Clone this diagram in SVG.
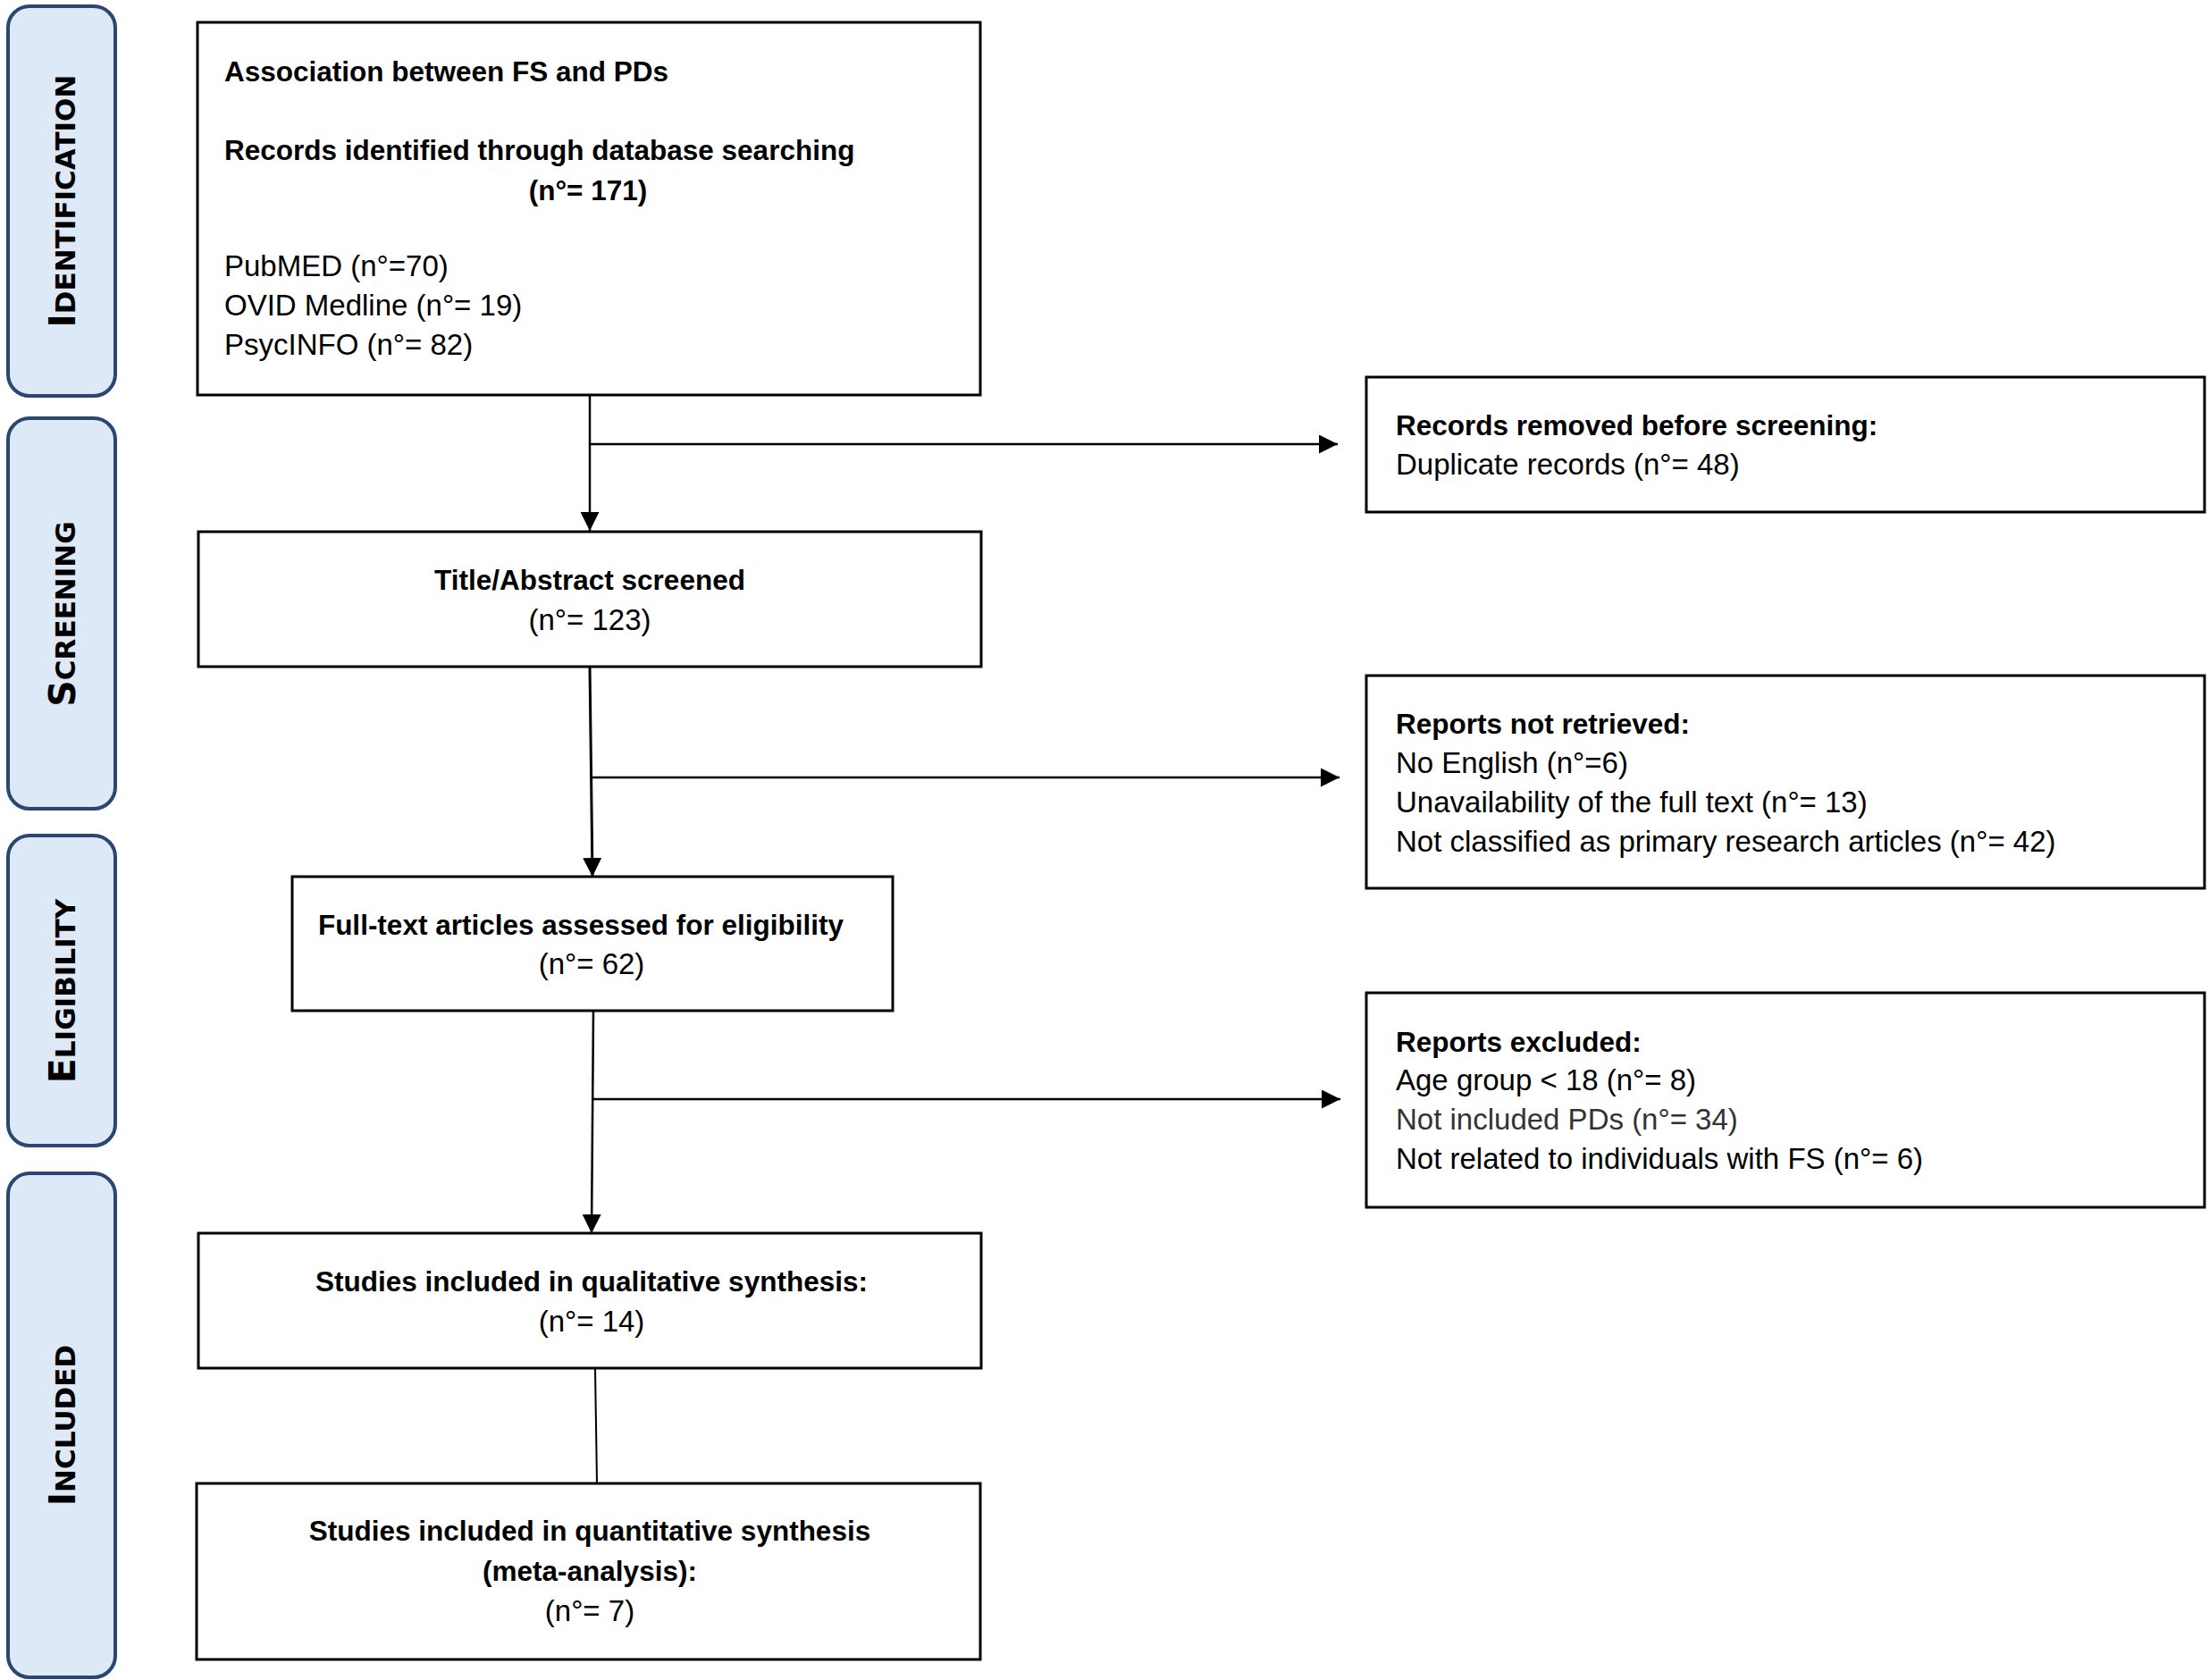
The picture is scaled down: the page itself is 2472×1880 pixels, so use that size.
<svg xmlns="http://www.w3.org/2000/svg" width="2472" height="1880" viewBox="0 0 2472 1880">
<style>
.bg{fill:#ffffff}
.box{fill:#ffffff;stroke:#000000;stroke-width:3}
.phase{fill:#dde9f6;stroke:#2b4670;stroke-width:4}
.ph{font-family:"DejaVu Sans",sans-serif;font-weight:bold;font-size:31px;fill:#000000}
.ph .cap{font-size:41px}
.b{font-family:"Liberation Sans",Arial,sans-serif;font-weight:bold;font-size:31.5px;fill:#000000}
.r{font-family:"Liberation Sans",Arial,sans-serif;font-size:33px;fill:#000000}
.m{text-anchor:middle}
.grey{fill:#333333}
.conn line{stroke:#000000;stroke-width:2.5;fill:none}
</style>
<defs>
<marker id="ah" viewBox="0 0 10 10" refX="10" refY="5" markerWidth="21" markerHeight="21" markerUnits="userSpaceOnUse" orient="auto">
<path d="M0,0 L10,5 L0,10 z" fill="#000000"/>
</marker>
</defs>
<rect class="bg" x="0" y="0" width="2472" height="1880"/>

<g id="phase-identification">
<rect class="phase" x="9" y="7" width="120" height="436" rx="24" ry="24"/>
<text class="ph m" transform="translate(84,225) rotate(-90)"><tspan class="cap">I</tspan>DENTIFICATION</text>
</g>
<g id="phase-screening">
<rect class="phase" x="9" y="468" width="120" height="437" rx="24" ry="24"/>
<text class="ph m" transform="translate(84,687) rotate(-90)"><tspan class="cap">S</tspan>CREENING</text>
</g>
<g id="phase-eligibility">
<rect class="phase" x="9" y="935" width="120" height="347" rx="24" ry="24"/>
<text class="ph m" transform="translate(84,1109) rotate(-90)"><tspan class="cap">E</tspan>LIGIBILITY</text>
</g>
<g id="phase-included">
<rect class="phase" x="9" y="1313" width="120" height="564" rx="24" ry="24"/>
<text class="ph m" transform="translate(84,1595) rotate(-90)"><tspan class="cap">I</tspan>NCLUDED</text>
</g>

<g id="connectors" class="conn">
<line x1="660" y1="442" x2="660" y2="594" marker-end="url(#ah)"/>
<line x1="660" y1="497" x2="1497" y2="497" marker-end="url(#ah)"/>
<line x1="660" y1="746" x2="663" y2="981" marker-end="url(#ah)" style="stroke-width:3"/>
<line x1="662" y1="870" x2="1499" y2="870" marker-end="url(#ah)"/>
<line x1="664" y1="1131" x2="662" y2="1380" marker-end="url(#ah)"/>
<line x1="664" y1="1230" x2="1500" y2="1230" marker-end="url(#ah)"/>
<line x1="666" y1="1531" x2="668" y2="1660" style="stroke-width:2"/>
</g>

<g id="node-identification">
<rect class="box" x="221" y="25" width="876" height="417"/>
<text class="b" x="251" y="91">Association between FS and PDs</text>
<text class="b" x="251" y="179">Records identified through database searching</text>
<text class="b m" x="658" y="224">(n°= 171)</text>
<text class="r" x="251" y="309">PubMED (n°=70)</text>
<text class="r" x="251" y="353">OVID Medline (n°= 19)</text>
<text class="r" x="251" y="397">PsycINFO (n°= 82)</text>
</g>

<g id="node-screened">
<rect class="box" x="222" y="595" width="876" height="151"/>
<text class="b m" x="660" y="660">Title/Abstract screened</text>
<text class="r m" x="660" y="705">(n°= 123)</text>
</g>

<g id="node-eligibility">
<rect class="box" x="327" y="981" width="672" height="150"/>
<text class="b m" x="650" y="1046">Full-text articles assessed for eligibility</text>
<text class="r m" x="662" y="1090">(n°= 62)</text>
</g>

<g id="node-qualitative">
<rect class="box" x="222" y="1380" width="876" height="151"/>
<text class="b m" x="662" y="1445">Studies included in qualitative synthesis:</text>
<text class="r m" x="662" y="1490">(n°= 14)</text>
</g>

<g id="node-quantitative">
<rect class="box" x="220" y="1660" width="877" height="197"/>
<text class="b m" x="660" y="1724">Studies included in quantitative synthesis</text>
<text class="b m" x="660" y="1769">(meta-analysis):</text>
<text class="r m" x="660" y="1814">(n°= 7)</text>
</g>

<g id="node-removed">
<rect class="box" x="1529" y="422" width="938" height="151"/>
<text class="b" x="1562" y="487">Records removed before screening:</text>
<text class="r" x="1562" y="531">Duplicate records (n°= 48)</text>
</g>

<g id="node-not-retrieved">
<rect class="box" x="1529" y="756" width="938" height="238"/>
<text class="b" x="1562" y="821">Reports not retrieved:</text>
<text class="r" x="1562" y="865">No English (n°=6)</text>
<text class="r" x="1562" y="909">Unavailability of the full text (n°= 13)</text>
<text class="r" x="1562" y="953">Not classified as primary research articles (n°= 42)</text>
</g>

<g id="node-excluded">
<rect class="box" x="1529" y="1111" width="938" height="240"/>
<text class="b" x="1562" y="1177">Reports excluded:</text>
<text class="r" x="1562" y="1220">Age group &lt; 18 (n°= 8)</text>
<text class="r grey" x="1562" y="1264">Not included PDs (n°= 34)</text>
<text class="r" x="1562" y="1308">Not related to individuals with FS (n°= 6)</text>
</g>
</svg>
